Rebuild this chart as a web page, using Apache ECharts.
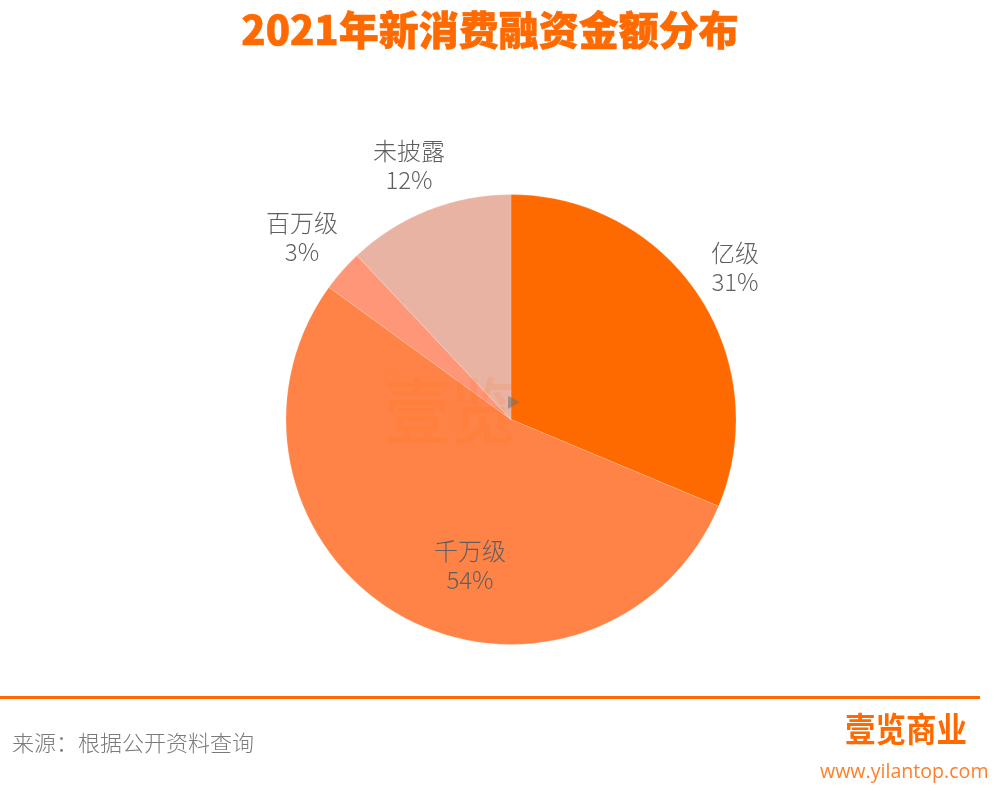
<!DOCTYPE html>
<html>
<head>
<meta charset="utf-8">
<title>2021年新消费融资金额分布</title>
<style>
html, body { margin: 0; padding: 0; background: #fff; }
#chart { width: 1006px; height: 792px; }
</style>
<script src="https://cdn.jsdelivr.net/npm/echarts@6/dist/echarts.min.js"></script>
</head>
<body>
<div id="chart"></div>
<script>
var categories = ['亿级', '千万级', '百万级', '未披露'];
var shares = [31.3, 53.7, 3, 12];
var sliceColors = ['#ff6a00', '#ff8246', '#ff9678', '#e9b3a3'];

var CJK = '"Noto Sans CJK SC", "Noto Sans", sans-serif';
// label centres
var labelSpots = [[735, 267], [470, 565], [302, 237], [409, 165]];

var chart = echarts.init(document.getElementById('chart'));

var pieData = categories.map(function(name, i) {
    return { name: name, value: shares[i], itemStyle: { color: sliceColors[i] } };
});

chart.setOption({
    animation: false,
    title: {
        text: '2021年新消费融资金额分布',
        left: 485,
        top: 5,
        textAlign: 'center',
        textStyle: {
            fontFamily: CJK,
            fontSize: 40,
            fontWeight: 900,
            color: '#ff6a00',
            textBorderColor: '#ff6a00',
            textBorderWidth: 0.6
        }
    },
    series: [{
        type: 'pie',
        center: [511, 419.5],
        radius: [0, 225],
        startAngle: 90,
        clockwise: true,
        silent: true,
        data: pieData,
        itemStyle: { borderColor: 'rgba(255,255,255,0.3)', borderWidth: 0.5 },
        label: {
            show: true,
            position: 'outside',
            formatter: function(p) {
                return p.name + '\n' + Math.round(p.value) + '%';
            },
            fontFamily: CJK,
            fontSize: 24,
            fontWeight: 300,
            lineHeight: 29,
            color: '#5f5f5f',
            align: 'center',
            verticalAlign: 'middle'
        },
        labelLine: { show: false },
        labelLayout: function(params) {
            var spot = labelSpots[params.dataIndex];
            return { x: spot[0], y: spot[1], align: 'center', verticalAlign: 'middle' };
        }
    }],
    graphic: [
        // watermark over the pie
        {
            type: 'text', z: 50, left: 384, top: 375, scaleY: 1.08,
            style: { text: '壹览', font: '500 66px ' + CJK, fill: 'rgba(255,106,0,0.12)' }
        },
        {
            type: 'polygon', z: 51,
            shape: { points: [[508, 396], [520, 402], [508, 409]] },
            style: { fill: 'rgba(110,110,110,0.55)' }
        },
        // footer rule
        {
            type: 'rect', z: 5,
            shape: { x: 0, y: 696, width: 980, height: 3 },
            style: { fill: '#ff6a00' }
        },
        {
            type: 'text', z: 5, left: 12, top: 732,
            style: { text: '来源：根据公开资料查询', font: '300 22px ' + CJK, fill: '#7a7a7a' }
        },
        {
            type: 'text', z: 5, left: 845, top: 712, scaleY: 1.12,
            style: { text: '壹览商业', font: '700 30.5px ' + CJK, fill: '#ff6a00' }
        },
        {
            type: 'text', z: 5, left: 820, top: 762,
            style: { text: 'www.yilantop.com', font: '19.6px "Open Sans", sans-serif', fill: '#ff7f2a' }
        }
    ]
});
</script>
</body>
</html>
